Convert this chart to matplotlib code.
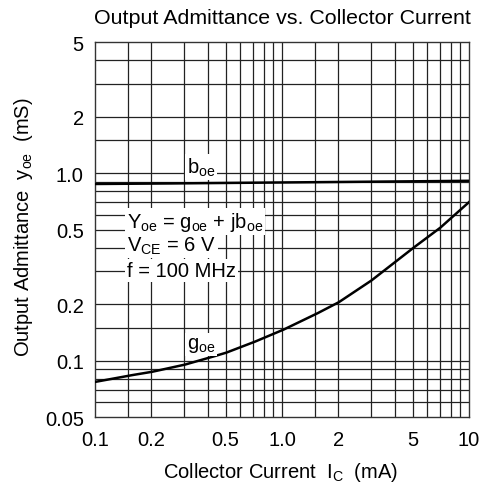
import numpy as np
import matplotlib.pyplot as plt
from matplotlib.ticker import FixedLocator, NullLocator

plt.rcParams['font.family'] = ['Liberation Sans', 'DejaVu Sans']

# data
ic = [0.1, 0.15, 0.2, 0.3, 0.4, 0.5, 0.7, 1.0, 1.5, 2, 3, 4, 5, 7, 10]
g_oe = [0.077, 0.083, 0.087, 0.095, 0.103, 0.110, 0.125, 0.145, 0.176, 0.204,
        0.267, 0.334, 0.397, 0.51, 0.70]
b_oe = [0.875, 0.877, 0.879, 0.882, 0.884, 0.886, 0.888, 0.891, 0.894, 0.896,
        0.899, 0.902, 0.904, 0.907, 0.91]

x_ticks = [0.1, 0.2, 0.5, 1.0, 2, 5, 10]
x_labels = ['0.1', '0.2', '0.5', '1.0', '2', '5', '10']
y_ticks = [0.05, 0.1, 0.2, 0.5, 1.0, 2, 5]
y_labels = ['0.05', '0.1', '0.2', '0.5', '1.0', '2', '5']
x_grid = [0.15, 0.2, 0.3, 0.4, 0.5, 0.6, 0.7, 0.8, 0.9, 1.0,
          1.5, 2, 3, 4, 5, 6, 7, 8, 9]
y_grid = [0.06, 0.07, 0.08, 0.09, 0.1, 0.15, 0.2, 0.3, 0.4, 0.5,
          0.6, 0.7, 0.8, 0.9, 1.0, 1.5, 2, 3, 4]

FS = 14.5

fig = plt.figure(figsize=(4.87, 4.89), dpi=100)
ax = fig.add_axes([0.195, 0.145, 0.768, 0.767])
ax.set_xscale('log')
ax.set_yscale('log')
ax.set_xlim(0.1, 10)
ax.set_ylim(0.05, 5)

for xv in x_grid:
    ax.axvline(xv, color='#222222', lw=0.9, zorder=1)
for yv in y_grid:
    ax.axhline(yv, color='#222222', lw=0.9, zorder=1)

# smooth curves in log space
xs = np.logspace(-1, 1, 300)
g_s = np.exp(np.interp(np.log(xs), np.log(ic), np.log(g_oe)))
b_s = np.exp(np.interp(np.log(xs), np.log(ic), np.log(b_oe)))
ax.plot(xs, b_s, color='black', lw=1.8, zorder=3)
ax.plot(xs, g_s, color='black', lw=1.8, zorder=3)

ax.xaxis.set_major_locator(FixedLocator(x_ticks))
ax.xaxis.set_minor_locator(NullLocator())
ax.set_xticklabels(x_labels)
ax.yaxis.set_major_locator(FixedLocator(y_ticks))
ax.yaxis.set_minor_locator(NullLocator())
ax.set_yticklabels(y_labels)
ax.tick_params(length=0, labelsize=FS, colors='black')
ax.tick_params(axis='x', pad=9)
ax.tick_params(axis='y', pad=8)
for sp in ax.spines.values():
    sp.set_linewidth(1.0)
    sp.set_color('#333333')

box = dict(facecolor='white', edgecolor='none', pad=1.5)
ax.text(0.31, 1.08, r'b$_{\mathregular{oe}}$', fontsize=FS, ha='left', va='center',
        bbox=box, zorder=4)
ax.text(0.31, 0.122, r'g$_{\mathregular{oe}}$', fontsize=FS, ha='left', va='center',
        bbox=box, zorder=4)
ax.text(0.148, 0.555, r'Y$_{\mathregular{oe}}$ = g$_{\mathregular{oe}}$ + jb$_{\mathregular{oe}}$',
        fontsize=FS, ha='left', va='center', bbox=box, zorder=4)
ax.text(0.148, 0.413, r'V$_{\mathregular{CE}}$ = 6 V', fontsize=FS, ha='left',
        va='center', bbox=box, zorder=4)
ax.text(0.148, 0.304, 'f = 100 MHz', fontsize=FS, ha='left', va='center',
        bbox=box, zorder=4)

fig.text(282 / 487, 1 - 19 / 489, 'Output Admittance vs. Collector Current',
         fontsize=15.4, ha='center', va='center')
fig.text(281 / 487, 1 - 472 / 489, r'Collector Current  I$_{\mathregular{C}}$  (mA)',
         fontsize=FS, ha='center', va='center')
fig.text(24 / 487, 1 - 227 / 489, r'Output Admittance  y$_{\mathregular{oe}}$  (mS)',
         fontsize=FS, ha='center', va='center', rotation=90)

fig.savefig('out.png', dpi=100)
